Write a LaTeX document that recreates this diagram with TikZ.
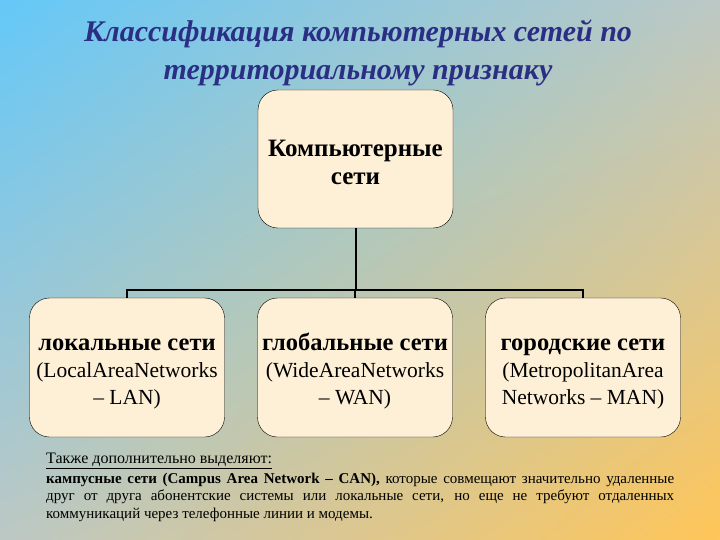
\documentclass[tikz,border=0pt]{standalone}
\usepackage{fontspec}
\setmainfont{Liberation Serif}
\usetikzlibrary{positioning,shadings}
\definecolor{skyblue}{HTML}{64C8F8}
\definecolor{greymid}{HTML}{BCC8C4}
\definecolor{goldy}{HTML}{FFC658}
\definecolor{cream}{HTML}{FEF0D6}
\definecolor{titleblue}{HTML}{2B2F84}
\newcommand{\topstrut}[1]{\rule{0pt}{#1}}
\newcommand{\kind}[1]{{\bfseries\fontsize{24.5}{27}\selectfont\topstrut{24pt}#1}}

\begin{document}
\begin{tikzpicture}[x=1pt,y=-1pt,
box/.style={draw,rounded corners=20pt,fill=cream,minimum width=195pt,minimum height=139pt,align=center,font=\fontsize{21.5}{27}\selectfont},
link/.style={line width=2pt}]
\shade[upper left=skyblue,upper right=greymid,lower left=greymid,lower right=goldy] (0,0) rectangle (720,540);
\useasboundingbox (0,0) rectangle (720,540);
\node[font=\fontsize{30}{38}\selectfont\bfseries\itshape,text=titleblue,align=center] (title) at (358,53) {Классификация компьютерных сетей по\\территориальному признаку};
\node[box,minimum height=138pt,font=\fontsize{25}{28.5}\selectfont\bfseries] (net) at (355.5,159) {\topstrut{23.5pt}Компьютерные\\сети};
\node[box] (lan) at (127,367.5) {\kind{локальные сети}\\(LocalAreaNetworks\\– LAN)};
\node[box] (wan) at (355,367.5) {\kind{глобальные сети}\\(WideAreaNetworks\\– WAN)};
\node[box] (man) at (583,367.5) {\kind{городские сети}\\(MetropolitanArea\\Networks – MAN)};
\coordinate (bar) at (355,290);
\draw[link] (net.south) -- (net.south |- bar);
\draw[link] (lan.north) -- (lan.north |- bar) -| (man.north);
\draw[link] (wan.north) -- (wan.north |- bar);
\node[anchor=north west,text width=628pt,align=justify,inner sep=0pt,font=\fontsize{15}{17.5}\selectfont] (note) at (46,453) {{\fontsize{16}{17.5}\selectfont\underline{Также дополнительно выделяют:}}\\[2pt]
\textbf{кампусные сети (Campus Area Network – CAN),} которые совмещают значительно удаленные\linebreak
друг от друга абонентские системы или локальные сети, но еще не требуют отдаленных\linebreak
коммуникаций через телефонные линии и модемы.};
\end{tikzpicture}
\end{document}
